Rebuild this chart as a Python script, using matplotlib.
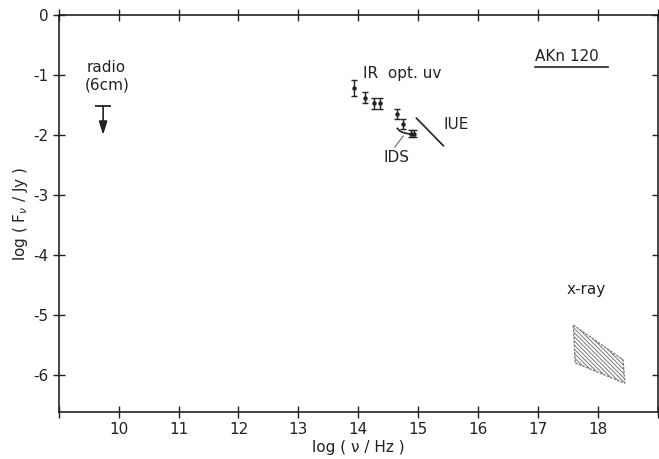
import numpy as np
import matplotlib
matplotlib.use("Agg")
import matplotlib.pyplot as plt
from matplotlib.patches import Polygon

plt.rcParams['font.family'] = ['DejaVu Sans']
plt.rcParams['axes.unicode_minus'] = False
plt.rcParams['hatch.color'] = '#888888'
plt.rcParams['hatch.linewidth'] = 0.7

# IR / optical / uv photometry
ir_lognu = [13.93, 14.12, 14.26, 14.36, 14.64, 14.75, 14.88, 14.93]
ir_logf = [-1.22, -1.38, -1.47, -1.47, -1.65, -1.82, -1.98, -1.98]
ir_err = [0.13, 0.09, 0.09, 0.09, 0.09, 0.08, 0.06, 0.06]

# IDS spectrum (short arc)
ids_lognu = [14.65, 14.70, 14.78, 14.89]
ids_logf = [-1.89, -1.94, -1.97, -1.99]

# IUE spectrum slope
iue_lognu = [14.97, 15.42]
iue_logf = [-1.72, -2.18]

# radio upper limit (6cm)
radio_lognu = 9.74
radio_limit = -1.52
radio_tip = -2.0

# x-ray bow-tie (corners)
xray_lognu = [17.59, 18.42, 18.45, 17.62]
xray_logf = [-5.17, -5.75, -6.14, -5.80]

xticks = list(range(9, 20))
xticklabels = ['' if t in (9, 19) else str(t) for t in xticks]
yticks = list(range(-6, 1))

ink = '#222222'

fig = plt.figure(figsize=(6.59, 4.59), dpi=100)
ax = fig.add_axes([0.0892, 0.1024, 0.909, 0.8649])

ax.errorbar(ir_lognu, ir_logf, yerr=ir_err, fmt='o', ms=2.2, color=ink,
            ecolor=ink, elinewidth=1.0, capsize=2.0, capthick=1.0)

ax.plot(ids_lognu, ids_logf, color=ink, lw=1.2)
ax.plot([14.75, 14.61], [-2.02, -2.2], color='#666666', lw=0.8)
ax.plot(iue_lognu, iue_logf, color=ink, lw=1.2)

# radio upper limit
ax.plot([radio_lognu], [radio_limit], marker='_', ms=11, mew=1.3, color=ink)
ax.annotate('', xy=(radio_lognu, radio_tip), xytext=(radio_lognu, radio_limit),
            arrowprops=dict(arrowstyle='-|>,head_length=0.8,head_width=0.25',
                            color=ink, lw=1.2, mutation_scale=10,
                            shrinkA=0, shrinkB=0))

# x-ray region
poly = Polygon(np.column_stack([xray_lognu, xray_logf]), closed=True,
               facecolor='none', edgecolor='#777777', lw=0.9, ls=(0, (2, 1)),
               hatch='\\\\\\\\\\\\\\\\')
ax.add_patch(poly)

txt = dict(color=ink, fontsize=11)
ax.text(9.46, -0.88, 'radio', ha='left', va='center', **txt)
ax.text(9.44, -1.17, '(6cm)', ha='left', va='center', **txt)
ax.text(14.08, -0.97, 'IR  opt. uv', ha='left', va='center', **txt)
ax.text(15.42, -1.83, 'IUE', ha='left', va='center', **txt)
ax.text(14.63, -2.38, 'IDS', ha='center', va='center', **txt)
ax.text(17.48, -4.58, 'x-ray', ha='left', va='center', **txt)
ax.text(16.95, -0.7, 'AKn 120', ha='left', va='center', **txt)
ax.plot([16.95, 18.17], [-0.86, -0.86], color=ink, lw=1.2)

ax.set_xlim(9, 19)
ax.set_ylim(-6.62, 0)
ax.set_xticks(xticks)
ax.set_xticklabels(xticklabels)
ax.set_yticks(yticks)
ax.tick_params(direction='inout', length=8, width=1.0, colors=ink,
               labelsize=11, top=True, right=True)
for s in ax.spines.values():
    s.set_color(ink)
    s.set_linewidth(1.2)

ax.set_xlabel('log ( ν / Hz )', fontsize=11, color=ink, labelpad=2)
ax.set_ylabel('log ( F$_\\nu$ / Jy )', fontsize=11, color=ink, labelpad=2)

fig.savefig('out.png', dpi=100)
